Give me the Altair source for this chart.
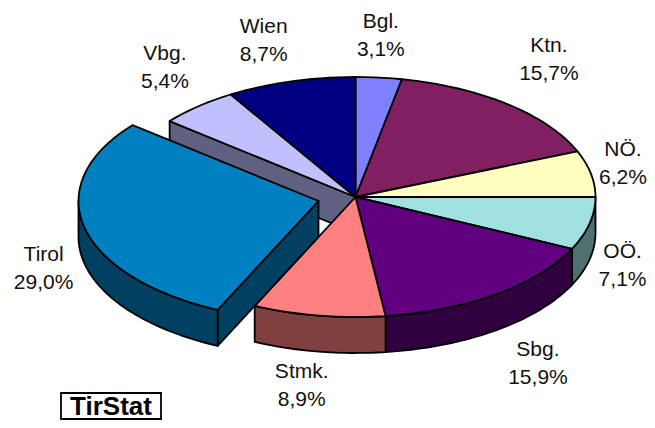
import math
import altair as alt
import pandas as pd

regions = ["Bgl.", "Ktn.", "NÖ.", "OÖ.", "Sbg.", "Stmk.", "Tirol", "Vbg.", "Wien"]
shares = [3.1, 15.7, 6.2, 7.1, 15.9, 8.9, 29.0, 5.4, 8.7]
tops = ["#8080FF", "#802060", "#FFFFC0", "#A0E0E0", "#600080", "#FF8080", "#0080C0", "#C0C0FF", "#000080"]
walls = ["#404080", "#401030", "#808060", "#507070", "#300040", "#804040", "#004060", "#606080", "#000040"]

# pie layout, in picture pixels
CX, CY, RX, RY, DEPTH = 355.5, 197.0, 240.0, 120.0, 36.0
BURST = {"Tirol": (-37.0, 4.0)}
NUDGE = {"Bgl.": (2, -56), "Ktn.": (41, -58), "NÖ.": (32, -24), "OÖ.": (33, 28), "Sbg.": (42, 56),
         "Stmk.": (-17, 56), "Tirol": (-78, 31), "Vbg.": (-33, -52), "Wien": (-27, -54)}
W, H = 639, 412


def rim(deg, ox=0.0, oy=0.0, drop=0.0):
    a = math.radians(deg)
    return CX + ox + RX * math.sin(a), CY + oy + drop - RY * math.cos(a)


def arc(a0, a1, ox=0.0, oy=0.0, drop=0.0):
    n = max(2, int(abs(a1 - a0) / 2) + 1)
    return [rim(a0 + (a1 - a0) * i / (n - 1), ox, oy, drop) for i in range(n)]


spans = {}
c = 0.0
total = sum(shares)
for r, s in zip(regions, shares):
    spans[r] = (c / total * 360, (c + s) / total * 360)
    c += s

rows = []
pieces = 0


def add(points, fill):
    global pieces
    for i, (x, y) in enumerate(points):
        rows.append({"piece": f"p{pieces:02d}", "i": i, "x": x, "y": y, "fill": fill})
    pieces += 1


def outer_wall(r, ox=0.0, oy=0.0):
    a0, a1 = spans[r]
    a0, a1 = max(a0, 90), min(a1, 270)
    if a1 > a0:
        col = walls[regions.index(r)]
        add(arc(a0, a1, ox, oy) + arc(a1, a0, ox, oy, DEPTH), col)


def top(r, ox=0.0, oy=0.0):
    a0, a1 = spans[r]
    add([(CX + ox, CY + oy)] + arc(a0, a1, ox, oy), tops[regions.index(r)])


def cut_wall(r, deg, ox=0.0, oy=0.0):
    x, y = rim(deg, ox, oy)
    ax, ay = CX + ox, CY + oy
    add([(ax, ay), (x, y), (x, y + DEPTH), (ax, ay + DEPTH)], walls[regions.index(r)])


# back to front
cut_wall("Vbg.", spans["Vbg."][0])
for r in regions:
    if r not in BURST:
        outer_wall(r)
for r in regions:
    if r not in BURST:
        top(r)
for r, (ox, oy) in BURST.items():
    cut_wall(r, spans[r][0], ox, oy)
    outer_wall(r, ox, oy)
    top(r, ox, oy)

df = pd.DataFrame(rows)

labels = []
for r, s in zip(regions, shares):
    a0, a1 = spans[r]
    x, y = rim((a0 + a1) / 2)
    dx, dy = NUDGE[r]
    labels.append({"x": x + dx, "y": y + dy, "t": r + "\n" + f"{s:.1f}".replace(".", ",") + "%"})

X = alt.X("x:Q", scale=alt.Scale(domain=[8, 8 + W], nice=False, zero=False), axis=None)
Y = alt.Y("y:Q", scale=alt.Scale(domain=[8 + H, 8], nice=False, zero=False), axis=None)

pie = alt.Chart(df).mark_line(interpolate="linear-closed", stroke="black", strokeWidth=1.8, strokeJoin="round").encode(
    x=X, y=Y, detail="piece:N", order="i:Q", fill=alt.Fill("fill:N", scale=None)
)

text = alt.Chart(pd.DataFrame(labels)).mark_text(
    font="Liberation Sans", fontSize=21, lineBreak="\n", lineHeight=28, color="#111111", align="center", baseline="middle"
).encode(x=X, y=Y, text="t:N")

box = alt.Chart(pd.DataFrame([{"x": 61, "x2": 161, "y": 393, "y2": 419}])).mark_rect(
    fill="white", stroke="black", strokeWidth=1.8
).encode(x=X, x2="x2:Q", y=Y, y2="y2:Q")

stamp = alt.Chart(pd.DataFrame([{"x": 111, "y": 407, "t": "TirStat"}])).mark_text(
    font="Liberation Sans", fontSize=26, fontWeight="bold", color="black", align="center", baseline="middle"
).encode(x=X, y=Y, text="t:N")

chart = alt.layer(pie, text, box, stamp).properties(
    width=W, height=H, padding=0, autosize=alt.AutoSizeParams(type="none"),
    background="white"
).configure_view(stroke=None)

chart.save("out.html", embed_options={"renderer": "svg", "actions": False})
